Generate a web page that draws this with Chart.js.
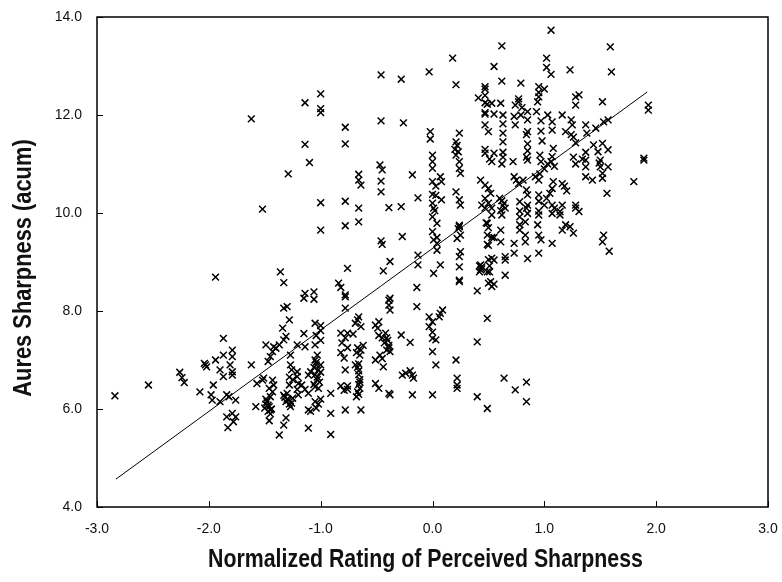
<!DOCTYPE html>
<html>
<head>
<meta charset="utf-8">
<title>Aures Sharpness vs Perceived Sharpness</title>
<script src="https://cdn.jsdelivr.net/npm/chart.js@4/dist/chart.umd.min.js"></script>
<style>
  html, body { margin: 0; padding: 0; background: #fff; }
  #wrap { width: 782px; height: 582px; }
</style>
</head>
<body>
<div id="wrap"><canvas id="chart" width="782" height="582"></canvas></div>
<script>
// normalized rating (x) and Aures sharpness (y)
const ratingX = [
  // far left
  -2.84, -2.54, -2.26, -2.24, -2.22, -2.03, -2.02, -2.04, -2.08, -1.98, -1.97, -1.96, -1.94, -1.94, -1.90, -1.90,
  -1.87, -1.87, -1.87, -1.84, -1.82, -1.81, -1.79, -1.79, -1.79, -1.79, -1.76, -1.84, -1.79, -1.76, -1.78, -1.83,
  // -1.6 .. -1.4
  -1.62, -1.62, -1.58, -1.57, -1.52, -1.51, -1.52, -1.47, -1.45, -1.43, -1.49, -1.42, -1.40, -1.43, -1.42, -1.46,
  -1.43, -1.45, -1.48, -1.46, -1.47, -1.45, -1.49, -1.44, -1.50, -1.46, -1.47, -1.45, -1.49,
  // -1.37 .. -1.2
  -1.37, -1.33, -1.31, -1.34, -1.28, -1.33, -1.30, -1.36, -1.33, -1.29, -1.27, -1.27, -1.26, -1.28, -1.25, -1.28,
  -1.30, -1.33, -1.30, -1.28, -1.25, -1.31, -1.27, -1.31, -1.33, -1.37, -1.21, -1.21, -1.21, -1.20, -1.21, -1.20,
  -1.29, -1.26, -1.32,
  // -1.15 .. -0.9
  -1.14, -1.14, -1.10, -1.00, -1.00, -1.00, -1.00, -1.00, -1.14, -1.06, -1.15, -1.06, -1.15, -1.14, -1.05, -1.00,
  -1.00, -1.04, -1.00, -1.05, -1.03, -1.05, -1.04, -1.02, -1.05, -1.03, -1.06, -1.02, -1.00, -1.00, -1.01, -1.09,
  -1.11, -1.17, -1.14, -1.11, -1.05, -1.02, -1.04, -1.00, -1.11, -1.09, -1.11, -0.91, -0.91, -0.91,
  -1.04, -1.06, -1.03, -1.05,
  // around -0.8
  -0.78, -0.78, -0.76, -0.84, -0.82, -0.78, -0.78, -0.78, -0.78, -0.78, -0.82, -0.76, -0.71, -0.78, -0.81, -0.76,
  -0.82, -0.79, -0.78, -0.82, -0.79, -0.76, -0.76, -0.78,
  // around -0.66
  -0.66, -0.66, -0.64, -0.66, -0.66, -0.67, -0.66, -0.69, -0.64, -0.67, -0.64, -0.65, -0.68, -0.62, -0.69, -0.66,
  -0.66, -0.66, -0.65, -0.66, -0.65, -0.66, -0.68, -0.64, -0.67, -0.65, -0.67,
  // around -0.45
  -0.46, -0.46, -0.47, -0.45, -0.46, -0.46, -0.46, -0.45, -0.44, -0.38, -0.39, -0.38, -0.39, -0.39, -0.38, -0.51,
  -0.48, -0.49, -0.48, -0.45, -0.42, -0.40, -0.39, -0.41, -0.38, -0.43, -0.51, -0.45, -0.44, -0.47, -0.51, -0.48,
  -0.38, -0.39, -0.41, -0.39,
  // -0.3 .. -0.1
  -0.28, -0.26, -0.28, -0.27, -0.18, -0.13, -0.14, -0.13, -0.13, -0.14, -0.28, -0.20, -0.27, -0.24, -0.18, -0.17,
  -0.20, -0.18,
  // around 0.0
  -0.03, -0.02, -0.02, 0.00, 0.00, 0.00, 0.00, 0.03, 0.07, 0.08, 0.00, 0.03, 0.08, 0.01, 0.00, 0.04,
  0.00, 0.04, 0.01, 0.04, 0.04, 0.01, 0.07, 0.07, 0.09, 0.06, -0.03, 0.00, -0.03, 0.00, 0.00, 0.03,
  0.00, 0.03, 0.00, 0.02, 0.00,
  // around 0.22
  0.18, 0.21, 0.24, 0.21, 0.22, 0.20, 0.23, 0.21, 0.24, 0.24, 0.25, 0.21, 0.24, 0.25, 0.24, 0.25,
  0.22, 0.25, 0.24, 0.24, 0.24, 0.24, 0.21, 0.22, 0.22, 0.22, 0.24, 0.23,
  // around 0.47
  0.47, 0.41, 0.49, 0.47, 0.50, 0.47, 0.47, 0.47, 0.55, 0.53, 0.47, 0.55, 0.51, 0.43, 0.47, 0.44,
  0.47, 0.49, 0.49, 0.49, 0.43, 0.43, 0.44, 0.42, 0.51, 0.51, 0.40, 0.50, 0.40, 0.49, 0.40, 0.49,
  0.50, 0.52, 0.47, 0.50, 0.53, 0.53, 0.48, 0.50, 0.53, 0.55, 0.50, 0.50, 0.53, 0.55, 0.49, 0.52,
  0.55, 0.53, 0.47, 0.47, 0.47, 0.44, 0.42, 0.53,
  // around 0.62
  0.55, 0.62, 0.62, 0.61, 0.63, 0.63, 0.63, 0.63, 0.63, 0.63, 0.60, 0.62, 0.64, 0.63, 0.65, 0.61,
  0.62, 0.61, 0.61, 0.65, 0.65, 0.65, 0.64, 0.62,
  // around 0.77
  0.79, 0.77, 0.74, 0.80, 0.77, 0.73, 0.74, 0.79, 0.73, 0.75, 0.81, 0.77, 0.78, 0.78, 0.78, 0.78,
  0.78, 0.73, 0.73, 0.74, 0.72,
  // around 0.85
  0.85, 0.85, 0.85, 0.84, 0.85, 0.85, 0.84, 0.84, 0.85, 0.85, 0.84, 0.85, 0.83, 0.83, 0.83, 0.85,
  0.84, 0.84, 0.85,
  // around 0.95
  0.95, 0.95, 1.00, 0.95, 0.94, 0.93, 0.97, 0.97, 0.98, 0.96, 0.95, 0.95, 0.95, 0.95, 0.94, 0.95,
  0.97, 0.95, 0.92, 0.95, 0.96, 0.97,
  // around 1.05
  1.06, 1.02, 1.02, 1.06, 1.03, 1.07, 1.07, 1.08, 1.07, 1.00, 1.03, 1.06, 1.09, 1.08, 1.07, 1.05,
  1.02, 1.00, 1.07, 1.09, 1.07, 1.07,
  // around 1.2
  1.23, 1.28, 1.31, 1.28, 1.16, 1.24, 1.25, 1.24, 1.26, 1.19, 1.28, 1.26, 1.16, 1.18, 1.20, 1.16,
  1.14, 1.14, 1.19, 1.16, 1.23, 1.26, 1.28, 1.31, 1.28, 1.28,
  // around 1.45
  1.37, 1.38, 1.46, 1.53, 1.57, 1.44, 1.52, 1.48, 1.57, 1.37, 1.34, 1.37, 1.37, 1.50, 1.50, 1.57,
  1.52, 1.52, 1.37, 1.43, 1.52, 1.59, 1.60, 1.56, 1.53, 1.52, 1.58, 1.49,
  // far right
  1.93, 1.93, 1.89, 1.89, 1.80
];
const sharpY = [
  6.27, 6.49, 6.75, 6.64, 6.54, 6.90, 6.86, 6.93, 6.35, 6.29, 6.18, 6.49, 7.00, 8.69, 6.80, 6.15,
  7.44, 7.10, 6.66, 6.29, 6.25, 6.90, 7.20, 7.07, 6.76, 6.69, 6.18, 5.84, 5.91, 5.84, 5.74, 5.62,
  11.92, 6.90, 6.05, 6.52, 6.59, 6.63, 10.08, 6.97, 7.07, 7.17, 7.31, 7.27, 7.24, 6.59, 6.49, 6.42,
  6.35, 6.25, 6.15, 6.05, 5.95, 5.90, 6.10, 6.00, 6.02, 5.76, 6.08, 5.98, 6.20,
  7.31, 7.41, 7.48, 7.65, 7.82, 8.06, 8.09, 8.80, 8.58, 10.80, 7.10, 6.90, 6.80, 6.65, 6.60, 6.49,
  6.32, 6.28, 6.20, 6.10, 6.22, 6.15, 6.05, 5.82, 5.67, 5.47, 7.31, 6.76, 6.66, 6.52, 6.40, 6.29,
  6.18, 6.12, 6.24,
  12.25, 11.40, 11.03, 12.43, 12.13, 12.05, 10.21, 9.65, 8.36, 8.39, 8.26, 8.24, 7.54, 7.27, 7.75, 7.70,
  7.60, 7.50, 7.40, 7.31, 7.10, 7.00, 6.90, 6.80, 6.70, 6.60, 6.50, 6.42, 6.90, 6.75, 6.55, 6.76,
  6.69, 6.49, 6.40, 6.32, 6.15, 6.10, 6.02, 6.20, 5.98, 5.95, 5.61, 6.32, 5.91, 5.48,
  6.95, 6.85, 6.65, 6.45,
  11.75, 11.41, 8.87, 8.57, 8.48, 8.33, 8.29, 8.06, 10.24, 9.74, 7.55, 7.55, 7.53, 7.45, 7.35, 7.25,
  7.15, 7.04, 6.80, 6.47, 6.38, 6.40, 6.47, 5.98,
  10.79, 10.67, 10.57, 10.10, 9.82, 7.82, 7.88, 7.75, 7.68, 7.25, 7.20, 7.10, 7.15, 7.30, 6.90, 6.92,
  6.78, 6.70, 6.60, 6.50, 6.42, 6.30, 6.25, 5.98, 6.85, 6.55, 6.35,
  12.82, 11.88, 10.98, 10.88, 10.65, 10.43, 9.43, 9.36, 8.82, 9.01, 10.11, 8.26, 8.22, 8.12, 8.02, 7.71,
  7.78, 7.65, 7.50, 7.45, 7.55, 7.40, 7.30, 7.20, 7.17, 7.35, 7.00, 7.03, 6.86, 7.10, 6.52, 6.42,
  6.29, 6.32, 7.45, 7.25,
  12.73, 11.84, 10.13, 9.52, 10.78, 10.31, 8.48, 9.14, 8.94, 8.09, 7.51, 7.36, 6.69, 6.73, 6.69, 6.63,
  6.78, 6.29,
  12.88, 11.66, 11.51, 11.18, 11.05, 10.91, 10.64, 10.55, 10.74, 10.64, 10.38, 10.36, 10.27, 10.10, 9.92, 9.79,
  9.62, 9.50, 9.45, 9.38, 9.24, 8.77, 8.94, 7.95, 8.02, 7.88, 7.88, 7.78, 7.68, 7.57, 7.44, 7.41,
  7.17, 6.90, 6.29, 10.05, 10.20,
  13.16, 12.62, 11.63, 11.45, 11.38, 11.30, 11.25, 11.18, 11.05, 10.91, 10.81, 10.43, 10.27, 10.16, 9.72, 9.55,
  9.48, 9.21, 9.11, 8.90, 8.63, 8.60, 7.00, 6.63, 6.49, 6.42, 9.75, 9.68,
  12.58, 12.35, 12.22, 12.05, 11.66, 11.22, 12.53, 12.02, 12.02, 12.24, 11.30, 11.22, 11.10, 10.67, 10.57, 10.16,
  10.10, 9.79, 9.55, 9.36, 8.94, 8.84, 8.90, 8.80, 8.92, 8.80, 8.41, 8.57, 7.37, 7.85, 6.25, 6.01,
  10.50, 10.40, 10.30, 10.20, 10.10, 9.96, 9.80, 9.70, 9.50, 9.50, 9.34, 9.05, 9.08, 9.04, 8.80, 8.60,
  8.55, 8.50, 12.40, 12.25, 11.80, 8.86, 8.92, 11.05,
  12.99, 13.41, 12.69, 12.24, 12.00, 11.82, 11.63, 11.45, 11.24, 11.14, 10.30, 10.25, 10.20, 10.15, 10.10, 10.05,
  9.96, 9.65, 9.41, 9.11, 9.04, 8.73, 6.63, 11.00,
  12.65, 12.33, 12.20, 12.15, 12.27, 11.97, 11.80, 12.00, 10.74, 10.67, 10.67, 10.60, 10.23, 10.04, 9.92, 9.76,
  9.65, 9.38, 9.18, 6.39, 11.05,
  12.07, 11.90, 11.66, 11.60, 11.41, 11.27, 11.14, 10.47, 10.37, 10.16, 10.10, 9.99, 9.82, 9.55, 9.41, 9.07,
  6.55, 6.15, 11.08,
  12.58, 12.46, 12.53, 12.37, 12.27, 12.07, 11.88, 11.67, 11.47, 11.18, 10.37, 10.24, 10.04, 9.96, 9.76, 9.55,
  9.45, 9.18, 10.74, 10.67, 10.80, 11.05,
  13.73, 13.16, 12.97, 12.83, 12.00, 11.86, 11.69, 11.32, 11.15, 10.90, 11.00, 11.05, 10.95, 10.64, 10.50, 10.40,
  10.30, 10.16, 10.16, 10.10, 9.99, 9.38,
  12.92, 12.37, 12.41, 12.20, 12.00, 11.90, 11.80, 11.60, 11.55, 11.66, 11.43, 11.14, 10.60, 10.55, 10.45, 10.16,
  10.03, 9.96, 9.76, 9.65, 9.72, 9.59, 10.16, 10.03, 10.10, 11.00,
  11.80, 11.63, 11.73, 11.86, 11.90, 11.39, 11.42, 11.25, 11.29, 11.24, 11.10, 11.08, 10.94, 11.08, 10.94, 10.94,
  10.81, 10.71, 10.74, 10.67, 12.27, 13.39, 12.88, 10.40, 9.55, 9.41, 9.22, 11.02,
  12.20, 12.10, 11.12, 11.08, 10.64
];
// fitted regression line, start and end
const fitX = [-2.83, 1.92];
const fitY = [4.57, 12.47];

const xTicks = [-3, -2, -1, 0, 1, 2, 3];
const yTicks = [4, 6, 8, 10, 12, 14];
const xTitle = 'Normalized Rating of Perceived Sharpness';
const yTitle = 'Aures Sharpness (acum)';

const points = ratingX.map((x, i) => ({ x: x, y: sharpY[i] }));
const fitLine = fitX.map((x, i) => ({ x: x, y: fitY[i] }));

// box around the plot with ticks pointing inward
const framePlugin = {
  id: 'frame',
  afterDatasetsDraw(chart) {
    const { ctx, chartArea: a, scales: { x, y } } = chart;
    ctx.save();
    ctx.strokeStyle = '#000';
    ctx.lineWidth = 1.5;
    ctx.strokeRect(a.left, a.top, a.right - a.left, a.bottom - a.top);
    ctx.beginPath();
    xTicks.forEach(v => {
      const px = Math.round(x.getPixelForValue(v)) + 0.5;
      ctx.moveTo(px, a.bottom); ctx.lineTo(px, a.bottom - 6);
    });
    yTicks.forEach(v => {
      const py = Math.round(y.getPixelForValue(v)) + 0.5;
      ctx.moveTo(a.left, py); ctx.lineTo(a.left + 6, py);
    });
    ctx.lineWidth = 1;
    ctx.stroke();
    ctx.restore();
  }
};

// axis titles in a condensed bold face (no narrow font installed, so squeeze it)
const titlePlugin = {
  id: 'axisTitles',
  afterDraw(chart) {
    const { ctx, chartArea: a } = chart;
    ctx.save();
    ctx.fillStyle = '#111';
    ctx.font = "bold 26px 'Liberation Sans', Arial, sans-serif";
    ctx.textAlign = 'center';
    ctx.textBaseline = 'middle';
    ctx.save();
    ctx.translate((a.left + a.right) / 2 - 7, 560);
    ctx.scale(0.82, 1);
    ctx.fillText(xTitle, 0, 0);
    ctx.restore();
    ctx.save();
    ctx.translate(24, (a.top + a.bottom) / 2 + 6);
    ctx.rotate(-Math.PI / 2);
    ctx.scale(0.84, 1);
    ctx.fillText(yTitle, 0, 0);
    ctx.restore();
    ctx.restore();
  }
};

const tickFont = { family: "'Liberation Sans', Arial, sans-serif", size: 14 };

new Chart(document.getElementById('chart'), {
  type: 'scatter',
  data: {
    datasets: [
      {
        label: 'data', data: points,
        pointStyle: 'crossRot', pointRadius: 4.8, pointBorderWidth: 1.5,
        borderColor: '#000', backgroundColor: '#000'
      },
      {
        type: 'line', label: 'fit', data: fitLine,
        borderColor: '#000', borderWidth: 1, pointRadius: 0, fill: false
      }
    ]
  },
  options: {
    responsive: false,
    animation: false,
    layout: { padding: { top: 17, right: 14, left: 0, bottom: 0 } },
    plugins: { legend: { display: false }, tooltip: { enabled: false } },
    scales: {
      x: {
        type: 'linear', min: -3, max: 3,
        afterFit: s => { s.height = 75; s.paddingLeft = 0; s.paddingRight = 0; },
        afterBuildTicks: s => { s.ticks = xTicks.map(v => ({ value: v })); },
        grid: { display: false, drawTicks: false },
        border: { display: false },
        ticks: { color: '#111', font: tickFont, padding: 14, maxRotation: 0, callback: v => v.toFixed(1) },
        title: { display: false }
      },
      y: {
        type: 'linear', min: 4, max: 14,
        afterFit: s => { s.width = 97; s.paddingTop = 0; s.paddingBottom = 0; },
        afterBuildTicks: s => { s.ticks = yTicks.map(v => ({ value: v })); },
        grid: { display: false, drawTicks: false },
        border: { display: false },
        ticks: { color: '#111', font: tickFont, padding: 15, callback: v => v.toFixed(1) },
        title: { display: false }
      }
    }
  },
  plugins: [framePlugin, titlePlugin]
});
</script>
</body>
</html>
